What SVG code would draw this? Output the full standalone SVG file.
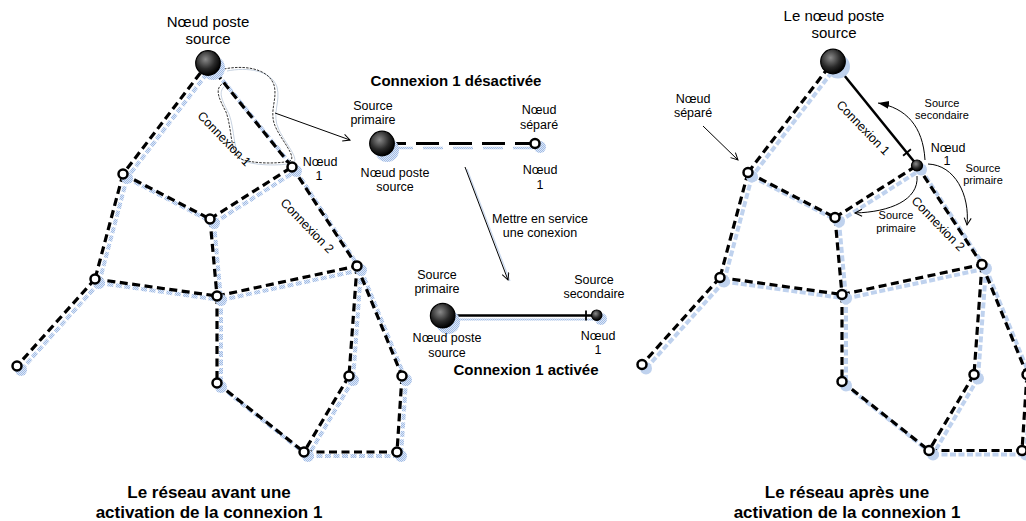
<svg xmlns="http://www.w3.org/2000/svg" width="1026" height="521" viewBox="0 0 1026 521">
<defs>
<pattern id="hatch" patternUnits="userSpaceOnUse" width="2" height="2">
<rect width="2" height="2" fill="#dfe8f6"/>
<rect width="1" height="1" fill="#9fbbe6"/>
<rect x="1" y="1" width="1" height="1" fill="#9fbbe6"/>
</pattern>
<radialGradient id="ball" cx="0.4" cy="0.35" r="0.65">
<stop offset="0" stop-color="#8a8a8a"/>
<stop offset="0.6" stop-color="#2a2a2a"/>
<stop offset="1" stop-color="#000"/>
</radialGradient>
<marker id="openArrow" markerWidth="10" markerHeight="10" refX="8" refY="4" orient="auto" markerUnits="userSpaceOnUse">
<path d="M1,0.5 L8,4 L1,7.5" fill="none" stroke="#000" stroke-width="1"/>
</marker>
<marker id="fillArrow" markerWidth="14" markerHeight="10" refX="11" refY="4" orient="auto" markerUnits="userSpaceOnUse">
<path d="M0,0 L11,4 L0,8 Z" fill="#000"/>
</marker>
<style>
.e{stroke:#000;stroke-width:3.2;stroke-dasharray:8 4.5;fill:none;stroke-linecap:butt}
.sh{stroke:url(#hatch);stroke-width:4;stroke-dasharray:6 2.5;fill:none}
.n{fill:#fff;stroke:#000;stroke-width:2.5}
.ns{fill:url(#hatch)}
.big{fill:url(#ball);stroke:#000;stroke-width:1.2}
.thin{stroke:#000;stroke-width:1;fill:none}
text{font-family:"Liberation Sans",Arial,sans-serif;fill:#000}
.t15{font-size:15px}
.t12{font-size:12.5px}
.t11{font-size:11px}
.b15{font-size:15px;font-weight:bold}
.b17{font-size:17px;font-weight:bold}
</style>
</defs>

<!-- ============ LEFT NETWORK ============ -->
<g id="left-network">
<g id="left-connectors">
<g transform="translate(4,4)">
<line class="sh" x1="208" y1="63" x2="123" y2="174"/>
<line class="sh" x1="208" y1="63" x2="292" y2="167"/>
<line class="sh" x1="123" y1="174" x2="210" y2="219"/>
<line class="sh" x1="210" y1="219" x2="292" y2="167"/>
<line class="sh" x1="123" y1="174" x2="95" y2="279"/>
<line class="sh" x1="210" y1="219" x2="217" y2="296"/>
<line class="sh" x1="292" y1="167" x2="357" y2="266"/>
<line class="sh" x1="95" y1="279" x2="217" y2="296"/>
<line class="sh" x1="217" y1="296" x2="357" y2="266"/>
<line class="sh" x1="95" y1="279" x2="17" y2="366"/>
<line class="sh" x1="217" y1="296" x2="217" y2="383"/>
<line class="sh" x1="357" y1="266" x2="349" y2="376"/>
<line class="sh" x1="357" y1="266" x2="402" y2="376"/>
<line class="sh" x1="217" y1="383" x2="304" y2="452"/>
<line class="sh" x1="349" y1="376" x2="304" y2="452"/>
<line class="sh" x1="402" y1="376" x2="397" y2="452"/>
<line class="sh" x1="304" y1="452" x2="397" y2="452"/>
</g>
<line class="e" x1="208" y1="63" x2="123" y2="174"/>
<line class="e" x1="208" y1="63" x2="292" y2="167"/>
<line class="e" x1="123" y1="174" x2="210" y2="219"/>
<line class="e" x1="210" y1="219" x2="292" y2="167"/>
<line class="e" x1="123" y1="174" x2="95" y2="279"/>
<line class="e" x1="210" y1="219" x2="217" y2="296"/>
<line class="e" x1="292" y1="167" x2="357" y2="266"/>
<line class="e" x1="95" y1="279" x2="217" y2="296"/>
<line class="e" x1="217" y1="296" x2="357" y2="266"/>
<line class="e" x1="95" y1="279" x2="17" y2="366"/>
<line class="e" x1="217" y1="296" x2="217" y2="383"/>
<line class="e" x1="357" y1="266" x2="349" y2="376"/>
<line class="e" x1="357" y1="266" x2="402" y2="376"/>
<line class="e" x1="217" y1="383" x2="304" y2="452"/>
<line class="e" x1="349" y1="376" x2="304" y2="452"/>
<line class="e" x1="402" y1="376" x2="397" y2="452"/>
<line class="e" x1="304" y1="452" x2="397" y2="452"/>
<!-- lasso around connexion 1 -->
<path d="M224,69 C244,65 268,68 274,85 C278,100 268,112 276,128 C282,141 297,157 290,161 C278,164 250,164 239,158 C230,150 232,128 226,112 C220,100 214,90 222,84" fill="none" stroke="#b9c6d8" stroke-width="0.8" transform="translate(3,2)"/>
<path d="M224,69 C244,65 268,68 274,85 C278,100 268,112 276,128 C282,141 297,157 290,161 C278,164 250,164 239,158 C230,150 232,128 226,112 C220,100 214,90 222,84" fill="none" stroke="#000" stroke-width="0.8" stroke-dasharray="2.5 1.2"/>
<line class="thin" x1="275" y1="113" x2="350" y2="140" marker-end="url(#openArrow)"/>
</g>
<g id="L-S"><circle class="ns" cx="213" cy="68" r="12"/><circle class="big" cx="208" cy="63" r="12.3"/></g>
<g id="L-N1"><circle class="ns" cx="296" cy="171" r="6"/><circle class="n" cx="292" cy="167" r="4.5"/></g>
<g id="L-A"><circle class="ns" cx="127" cy="178" r="6"/><circle class="n" cx="123" cy="174" r="4.5"/></g>
<g id="L-B"><circle class="ns" cx="214" cy="223" r="6"/><circle class="n" cx="210" cy="219" r="4.5"/></g>
<g id="L-C"><circle class="ns" cx="361" cy="270" r="6"/><circle class="n" cx="357" cy="266" r="4.5"/></g>
<g id="L-D"><circle class="ns" cx="99" cy="283" r="6"/><circle class="n" cx="95" cy="279" r="4.5"/></g>
<g id="L-E"><circle class="ns" cx="221" cy="300" r="6"/><circle class="n" cx="217" cy="296" r="4.5"/></g>
<g id="L-F"><circle class="ns" cx="21" cy="370" r="6"/><circle class="n" cx="17" cy="366" r="4.5"/></g>
<g id="L-G"><circle class="ns" cx="221" cy="387" r="6"/><circle class="n" cx="217" cy="383" r="4.5"/></g>
<g id="L-H"><circle class="ns" cx="353" cy="380" r="6"/><circle class="n" cx="349" cy="376" r="4.5"/></g>
<g id="L-I"><circle class="ns" cx="406" cy="380" r="6"/><circle class="n" cx="402" cy="376" r="4.5"/></g>
<g id="L-J"><circle class="ns" cx="308" cy="456" r="6"/><circle class="n" cx="304" cy="452" r="4.5"/></g>
<g id="L-K"><circle class="ns" cx="401" cy="456" r="6"/><circle class="n" cx="397" cy="452" r="4.5"/></g>
</g>

<g id="left-labels">
<text class="t15" x="208" y="27" text-anchor="middle">Nœud poste</text>
<text class="t15" x="208" y="44" text-anchor="middle">source</text>
<text class="t12" x="320" y="166" text-anchor="middle">Nœud</text>
<text class="t12" x="319" y="180" text-anchor="middle">1</text>
<text class="t12" text-anchor="middle" transform="translate(224,139) rotate(46)" y="4">Connexion 1</text>
<text class="t12" text-anchor="middle" transform="translate(307,226) rotate(46)" y="4">Connexion 2</text>
<text class="b17" x="209" y="498" text-anchor="middle">Le réseau avant une</text>
<text class="b17" x="209" y="518" text-anchor="middle">activation de la connexion 1</text>
</g>

<!-- ============ MIDDLE ============ -->
<g id="middle">
<text class="b15" x="456" y="86" text-anchor="middle">Connexion 1 désactivée</text>
<g id="mid-top-connector">
<line x1="393" y1="148" x2="540" y2="148" stroke="url(#hatch)" stroke-width="2.5" stroke-dasharray="20 10"/>
<line x1="394" y1="143.5" x2="531" y2="143.5" stroke="#000" stroke-width="3" stroke-dasharray="12 10 23 10 23 10 23 10 23 10"/>
</g>
<g id="M-S1"><circle class="ns" cx="387" cy="150" r="12"/><circle class="big" cx="382" cy="143.5" r="12.3"/></g>
<g id="M-N1a"><circle class="ns" cx="540" cy="147" r="6"/><circle class="n" cx="535" cy="143.5" r="4.5"/></g>
<text class="t12" x="373" y="110" text-anchor="middle">Source</text>
<text class="t12" x="373" y="124" text-anchor="middle">primaire</text>
<text class="t12" x="539" y="114" text-anchor="middle">Nœud</text>
<text class="t12" x="539" y="129" text-anchor="middle">séparé</text>
<text class="t12" x="395" y="177" text-anchor="middle">Nœud poste</text>
<text class="t12" x="395" y="191" text-anchor="middle">source</text>
<text class="t12" x="540" y="174" text-anchor="middle">Nœud</text>
<text class="t12" x="540" y="189" text-anchor="middle">1</text>

<g id="mid-arrow">
<line x1="467" y1="169" x2="510" y2="281" stroke="#c9d8ee" stroke-width="1.2"/>
<line class="thin" x1="465" y1="167" x2="508" y2="280" marker-end="url(#openArrow)"/>
</g>
<text class="t12" x="540" y="223" text-anchor="middle">Mettre en service</text>
<text class="t12" x="540" y="237" text-anchor="middle">une conexion</text>

<g id="mid-bottom-connector">
<line x1="454" y1="319.5" x2="598" y2="319.5" stroke="url(#hatch)" stroke-width="2"/>
<line x1="454" y1="315.5" x2="592" y2="315.5" stroke="#000" stroke-width="2.5"/>
<line x1="586" y1="310.5" x2="586" y2="320.5" stroke="#000" stroke-width="1.8"/>
</g>
<g id="M-S2"><circle class="ns" cx="448" cy="322" r="12"/><circle class="big" cx="442.7" cy="315.7" r="12.3"/></g>
<g id="M-N1b"><circle class="ns" cx="601" cy="319" r="6"/><circle class="big" cx="596.7" cy="315.2" r="5.2"/></g>
<text class="t12" x="437" y="279" text-anchor="middle">Source</text>
<text class="t12" x="437" y="293" text-anchor="middle">primaire</text>
<text class="t12" x="594" y="284" text-anchor="middle">Source</text>
<text class="t12" x="594" y="298" text-anchor="middle">secondaire</text>
<text class="t12" x="447" y="342" text-anchor="middle">Nœud poste</text>
<text class="t12" x="447" y="357" text-anchor="middle">source</text>
<text class="t12" x="598" y="340" text-anchor="middle">Nœud</text>
<text class="t12" x="598" y="354" text-anchor="middle">1</text>
<text class="b15" x="526" y="375" text-anchor="middle">Connexion 1 activée</text>
</g>

<!-- ============ RIGHT NETWORK ============ -->
<g id="right-network" transform="translate(625,-1.5)">
<g id="right-connectors">
<g transform="translate(4,4)">
<line class="sh" x1="208" y1="63" x2="123" y2="174"/>
<line class="sh" x1="123" y1="174" x2="210" y2="219"/>
<line class="sh" x1="210" y1="219" x2="292" y2="167"/>
<line class="sh" x1="123" y1="174" x2="95" y2="279"/>
<line class="sh" x1="210" y1="219" x2="217" y2="296"/>
<line class="sh" x1="292" y1="167" x2="357" y2="266"/>
<line class="sh" x1="95" y1="279" x2="217" y2="296"/>
<line class="sh" x1="217" y1="296" x2="357" y2="266"/>
<line class="sh" x1="95" y1="279" x2="17" y2="366"/>
<line class="sh" x1="217" y1="296" x2="217" y2="383"/>
<line class="sh" x1="357" y1="266" x2="349" y2="376"/>
<line class="sh" x1="357" y1="266" x2="402" y2="376"/>
<line class="sh" x1="217" y1="383" x2="304" y2="452"/>
<line class="sh" x1="349" y1="376" x2="304" y2="452"/>
<line class="sh" x1="402" y1="376" x2="397" y2="452"/>
<line class="sh" x1="304" y1="452" x2="397" y2="452"/>
</g>
<line x1="211" y1="66" x2="295" y2="170" stroke="#c9d8ee" stroke-width="1.5"/>
<line x1="208" y1="63" x2="289" y2="163" stroke="#000" stroke-width="2.5"/>
<line x1="278.1" y1="157.2" x2="285.9" y2="150.8" stroke="#000" stroke-width="1.8"/>
<line class="e" x1="123" y1="174" x2="208" y2="63"/>
<line class="e" x1="123" y1="174" x2="210" y2="219"/>
<line class="e" x1="210" y1="219" x2="292" y2="167"/>
<line class="e" x1="123" y1="174" x2="95" y2="279"/>
<line class="e" x1="210" y1="219" x2="217" y2="296"/>
<line class="e" x1="292" y1="167" x2="357" y2="266"/>
<line class="e" x1="95" y1="279" x2="217" y2="296"/>
<line class="e" x1="217" y1="296" x2="357" y2="266"/>
<line class="e" x1="95" y1="279" x2="17" y2="366"/>
<line class="e" x1="217" y1="296" x2="217" y2="383"/>
<line class="e" x1="357" y1="266" x2="349" y2="376"/>
<line class="e" x1="357" y1="266" x2="402" y2="376"/>
<line class="e" x1="217" y1="383" x2="304" y2="452"/>
<line class="e" x1="349" y1="376" x2="304" y2="452"/>
<line class="e" x1="402" y1="376" x2="397" y2="452"/>
<line class="e" x1="304" y1="452" x2="397" y2="452"/>
</g>
<g id="R-S"><circle class="ns" cx="213" cy="68" r="12"/><circle class="big" cx="208" cy="63" r="12.3"/></g>
<g id="R-N1"><circle class="ns" cx="296" cy="171" r="6"/><circle class="big" cx="292" cy="167" r="5.5"/></g>
<g id="R-A"><circle class="ns" cx="127" cy="178" r="6"/><circle class="n" cx="123" cy="174" r="4.5"/></g>
<g id="R-B"><circle class="ns" cx="214" cy="223" r="6"/><circle class="n" cx="210" cy="219" r="4.5"/></g>
<g id="R-C"><circle class="ns" cx="361" cy="270" r="6"/><circle class="n" cx="357" cy="266" r="4.5"/></g>
<g id="R-D"><circle class="ns" cx="99" cy="283" r="6"/><circle class="n" cx="95" cy="279" r="4.5"/></g>
<g id="R-E"><circle class="ns" cx="221" cy="300" r="6"/><circle class="n" cx="217" cy="296" r="4.5"/></g>
<g id="R-F"><circle class="ns" cx="21" cy="370" r="6"/><circle class="n" cx="17" cy="366" r="4.5"/></g>
<g id="R-G"><circle class="ns" cx="221" cy="387" r="6"/><circle class="n" cx="217" cy="383" r="4.5"/></g>
<g id="R-H"><circle class="ns" cx="353" cy="380" r="6"/><circle class="n" cx="349" cy="376" r="4.5"/></g>
<g id="R-I"><circle class="ns" cx="406" cy="380" r="6"/><circle class="n" cx="402" cy="376" r="4.5"/></g>
<g id="R-J"><circle class="ns" cx="308" cy="456" r="6"/><circle class="n" cx="304" cy="452" r="4.5"/></g>
<g id="R-K"><circle class="ns" cx="401" cy="456" r="6"/><circle class="n" cx="397" cy="452" r="4.5"/></g>
</g>

<g id="right-annotations">
<path class="thin" d="M925,160 C923,126 906,108 878,103" marker-end="url(#fillArrow)"/>
<path class="thin" d="M928,164 C955,165 970,195 967,225" marker-end="url(#openArrow)"/>
<path class="thin" d="M917,176 C919,200 890,212 855,213" marker-end="url(#openArrow)"/>
<line class="thin" x1="703" y1="126" x2="738" y2="160" marker-end="url(#openArrow)"/>
</g>

<g id="right-labels">
<text class="t15" x="834" y="21" text-anchor="middle">Le nœud poste</text>
<text class="t15" x="834" y="38" text-anchor="middle">source</text>
<text class="t12" x="693" y="103" text-anchor="middle">Nœud</text>
<text class="t12" x="693" y="117" text-anchor="middle">séparé</text>
<text class="t11" x="942" y="107" text-anchor="middle">Source</text>
<text class="t11" x="942" y="119" text-anchor="middle">secondaire</text>
<text class="t12" x="948" y="152" text-anchor="middle">Nœud</text>
<text class="t12" x="947" y="165" text-anchor="middle">1</text>
<text class="t11" x="983" y="172" text-anchor="middle">Source</text>
<text class="t11" x="983" y="184" text-anchor="middle">primaire</text>
<text class="t11" x="896" y="219" text-anchor="middle">Source</text>
<text class="t11" x="896" y="232" text-anchor="middle">primaire</text>
<text class="t12" text-anchor="middle" transform="translate(863,128) rotate(46)" y="4">Connexion 1</text>
<text class="t12" text-anchor="middle" transform="translate(938,224) rotate(46)" y="4">Connexion 2</text>
<text class="b17" x="847" y="498" text-anchor="middle">Le réseau après une</text>
<text class="b17" x="847" y="518" text-anchor="middle">activation de la connexion 1</text>
</g>
</svg>
